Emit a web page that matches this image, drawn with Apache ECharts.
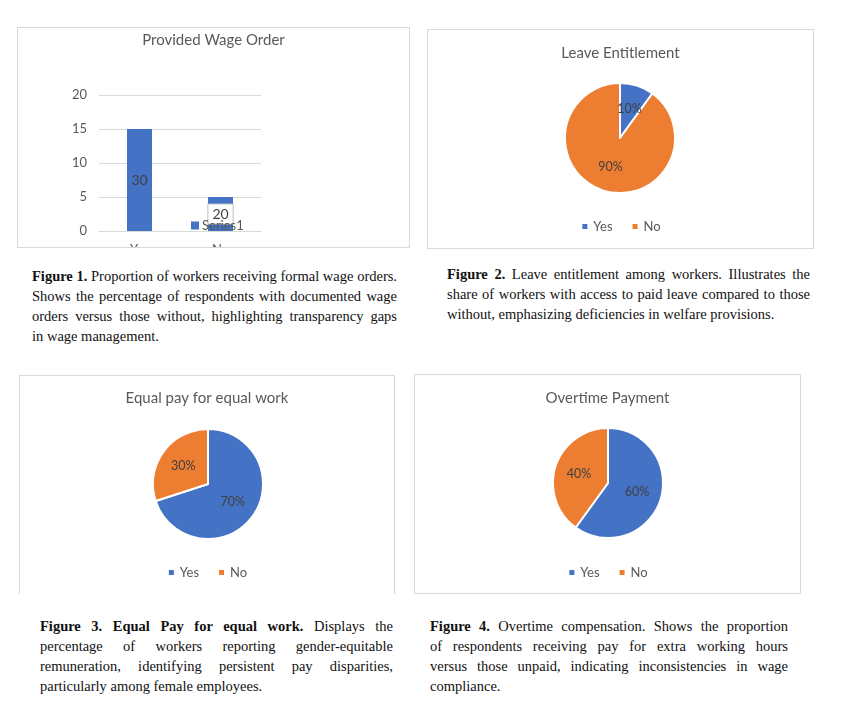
<!DOCTYPE html>
<html>
<head>
<meta charset="utf-8">
<script src="https://cdn.jsdelivr.net/npm/echarts@6/dist/echarts.min.js"></script>
<style>
  html, body { margin: 0; padding: 0; background: #fff; }
  #page { position: relative; width: 841px; height: 713px; overflow: hidden; background: #fff; }
  .panel { position: absolute; box-sizing: border-box; border: 1px solid #d9d9d9; overflow: hidden; background: #fff; }
  .panel .chart { position: absolute; left: 0; top: 0; width: 100%; height: 100%; }
  .cap { position: absolute; font-family: "Liberation Serif", "DejaVu Serif", serif; font-size: 14.5px; color: #111; }
  .cap div { height: 20px; line-height: 20px; white-space: nowrap; text-align: justify; text-align-last: justify; }
  .cap div.last { text-align: left; text-align-last: left; }
  .cap b { font-weight: bold; }
</style>
</head>
<body>
<div id="page">
  <div class="panel" id="p1" style="left:17px; top:27px; width:393px; height:221px;"><div class="chart" id="c1"></div></div>
  <div class="panel" id="p2" style="left:427px; top:29px; width:387px; height:220px;"><div class="chart" id="c2"></div></div>
  <div class="panel" id="p3" style="left:19px; top:375px; width:376px; height:219px; border-bottom:none;"><div class="chart" id="c3"></div></div>
  <div class="panel" id="p4" style="left:414px; top:374px; width:387px; height:220px;"><div class="chart" id="c4"></div></div>

  <div class="cap" style="left:32px; top:266px; width:365px;">
    <div><b>Figure 1.</b> Proportion of workers receiving formal wage orders.</div>
    <div>Shows the percentage of respondents with documented wage</div>
    <div>orders versus those without, highlighting transparency gaps</div>
    <div class="last">in wage management.</div>
  </div>
  <div class="cap" style="left:447px; top:264px; width:363px;">
    <div><b>Figure 2.</b> Leave entitlement among workers. Illustrates the</div>
    <div>share of workers with access to paid leave compared to those</div>
    <div class="last">without, emphasizing deficiencies in welfare provisions.</div>
  </div>
  <div class="cap" style="left:40px; top:616px; width:353px;">
    <div><b>Figure 3. Equal Pay for equal work.</b> Displays the</div>
    <div>percentage of workers reporting gender-equitable</div>
    <div>remuneration, identifying persistent pay disparities,</div>
    <div class="last">particularly among female employees.</div>
  </div>
  <div class="cap" style="left:430px; top:616px; width:358px;">
    <div><b>Figure 4.</b> Overtime compensation. Shows the proportion</div>
    <div>of respondents receiving pay for extra working hours</div>
    <div>versus those unpaid, indicating inconsistencies in wage</div>
    <div class="last">compliance.</div>
  </div>
</div>
<script>
// ---- Data ----
const wageCategories = ['Yes', 'No'];
const wageValues = [15, 5];
const wageLabels = ['30', '20'];
const wageSeriesName = 'Series1';
const wageYTicks = [0, 5, 10, 15, 20];

const pieCategories = ['Yes', 'No'];
const leaveValues = [10, 90];
const equalPayValues = [70, 30];
const overtimeValues = [60, 40];

const titles = ['Provided Wage Order', 'Leave Entitlement', 'Equal pay for equal work', 'Overtime Payment'];

// ---- Styles ----
const BLUE = '#4472C4', ORANGE = '#ED7D31';
const FONT = 'Lato, "Open Sans", sans-serif';
const TXT = '#595959';

function titleOpt(text, top) {
  return { text: text, left: 'center', top: top,
    textStyle: { fontFamily: FONT, fontSize: 15, fontWeight: 'normal', color: TXT } };
}

// Figure 1: bar
const c1 = echarts.init(document.getElementById('c1'), null, { renderer: 'canvas' });
c1.setOption({
  animation: false,
  title: titleOpt(titles[0], 0),
  legend: { data: [wageSeriesName], left: 168, top: 186, itemWidth: 8, itemHeight: 8, icon: 'rect', itemGap: 4,
    textStyle: { fontFamily: FONT, fontSize: 13, color: TXT, padding: [0, 0, 0, -2] } },
  grid: { left: 81, right: 148, top: 67, bottom: 16, outerBoundsMode: 'none', containLabel: false },
  xAxis: { type: 'category', data: wageCategories,
    axisLine: { lineStyle: { color: '#d9d9d9' } }, axisTick: { show: false },
    axisLabel: { margin: 12, fontFamily: FONT, fontSize: 13, color: TXT } },
  yAxis: { type: 'value', min: wageYTicks[0], max: wageYTicks[wageYTicks.length - 1], interval: 5,
    axisLine: { show: false }, axisTick: { show: false },
    splitLine: { lineStyle: { color: '#d9d9d9' } },
    axisLabel: { margin: 12, fontFamily: FONT, fontSize: 13, color: TXT } },
  series: [{
    name: wageSeriesName, type: 'bar', barWidth: 25,
    itemStyle: { color: BLUE },
    data: wageValues.map((v, i) => ({
      value: v,
      label: i === 1 ? { backgroundColor: '#fff', borderColor: '#bfbfbf', borderWidth: 1, padding: [3, 4, 2, 4] } : {}
    })),
    label: { show: true, position: 'inside', fontFamily: FONT, fontSize: 14, color: '#404040',
      formatter: p => wageLabels[p.dataIndex] }
  }]
});

function pieOpt(title, values, cx, titleTop, legendTop) {
  return {
    animation: false,
    color: [BLUE, ORANGE],
    title: titleOpt(title, titleTop),
    legend: { data: pieCategories, left: 'center', top: legendTop, itemWidth: 7, itemHeight: 7, icon: 'rect', itemGap: 18,
      textStyle: { fontFamily: FONT, fontSize: 13, color: TXT } },
    series: [{
      type: 'pie', radius: 55, center: [cx, 108], startAngle: 90, clockwise: true,
      itemStyle: { borderColor: '#fff', borderWidth: 2 },
      label: { show: true, position: 'inside', formatter: '{d}%', fontFamily: FONT, fontSize: 12.5, color: '#404040' },
      labelLine: { show: false },
      emphasis: { disabled: true },
      data: pieCategories.map((n, i) => ({ name: n, value: values[i] }))
    }]
  };
}

echarts.init(document.getElementById('c2')).setOption(pieOpt(titles[1], leaveValues, 192, 11, 185));
echarts.init(document.getElementById('c3')).setOption(pieOpt(titles[2], equalPayValues, 188, 10, 185));
echarts.init(document.getElementById('c4')).setOption(pieOpt(titles[3], overtimeValues, 193, 11, 186));
</script>
</body>
</html>
